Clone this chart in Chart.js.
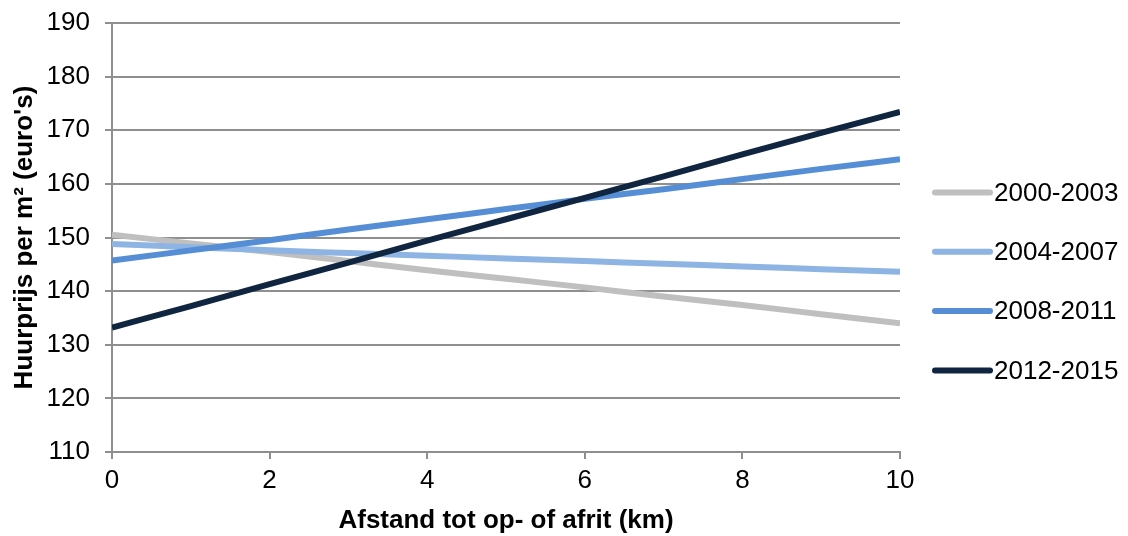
<!DOCTYPE html>
<html>
<head>
<meta charset="utf-8">
<script src="https://cdn.jsdelivr.net/npm/chart.js@4/dist/chart.umd.min.js"></script>
<style>
  html, body { margin: 0; padding: 0; background: #ffffff; }
  canvas { display: block; }
</style>
</head>
<body>
<canvas id="chart" width="1128" height="536"></canvas>
<script>
// Afstand tot op- of afrit (km)
const distanceKm = [0, 1, 2, 3, 4, 5, 6, 7, 8, 9, 10];

// Huurprijs per m² per periode (euro's)
const rent2000_2003 = [150.5, 148.9, 147.3, 145.6, 143.9, 142.3, 140.7, 139.0, 137.4, 135.7, 134.0];
const rent2004_2007 = [148.8, 148.2, 147.6, 147.1, 146.6, 146.1, 145.6, 145.1, 144.6, 144.1, 143.6];
const rent2008_2011 = [145.7, 147.6, 149.5, 151.5, 153.4, 155.3, 157.2, 159.0, 160.9, 162.8, 164.6];
const rent2012_2015 = [133.2, 137.2, 141.3, 145.3, 149.4, 153.4, 157.4, 161.4, 165.5, 169.5, 173.4];

const periodLabels = ['2000-2003', '2004-2007', '2008-2011', '2012-2015'];
const periodSeries = [rent2000_2003, rent2004_2007, rent2008_2011, rent2012_2015];
const periodColors = ['#bfbfbf', '#8db4e2', '#558ed5', '#10253f'];

const FONT = '"Liberation Sans", Arial, sans-serif';
const GRID = '#8f8f8f';

// legend drawn at the right of the plot, one line sample + label per period
const sideLegend = {
  id: 'sideLegend',
  afterDraw(chart) {
    const ctx = chart.ctx;
    const x0 = 935, x1 = 990, tx = 994;
    const firstY = 192.5, step = 59.3;
    ctx.save();
    ctx.font = '26px ' + FONT;
    ctx.textBaseline = 'middle';
    ctx.textAlign = 'left';
    chart.data.datasets.forEach((ds, i) => {
      const y = firstY + i * step;
      ctx.beginPath();
      ctx.strokeStyle = ds.borderColor;
      ctx.lineWidth = 6;
      ctx.lineCap = 'round';
      ctx.moveTo(x0, y);
      ctx.lineTo(x1, y);
      ctx.stroke();
      ctx.fillStyle = '#000000';
      ctx.fillText(ds.label, tx, y + 1);
    });
    ctx.restore();
  }
};

const datasets = periodLabels.map((label, i) => ({
  label: label,
  data: distanceKm.map((x, j) => ({ x: x, y: periodSeries[i][j] })),
  borderColor: periodColors[i],
  backgroundColor: periodColors[i],
  borderWidth: 6,
  pointRadius: 0,
  pointHoverRadius: 0,
  tension: 0.4,
  cubicInterpolationMode: 'monotone',
  fill: false,
  order: periodLabels.length - i
}));

new Chart(document.getElementById('chart'), {
  type: 'line',
  data: { datasets: datasets },
  plugins: [sideLegend],
  options: {
    responsive: false,
    animation: false,
    devicePixelRatio: 1,
    layout: { padding: { top: 23, right: 228, bottom: 0, left: 0 } },
    plugins: {
      legend: { display: false },
      tooltip: { enabled: false }
    },
    scales: {
      x: {
        type: 'linear',
        min: 0,
        max: 10,
        afterFit(scale) {
          scale.height = 84;
          scale.paddingLeft = 0;
          scale.paddingRight = 0;
        },
        ticks: {
          stepSize: 2,
          padding: 6,
          color: '#000000',
          font: { family: FONT, size: 26 }
        },
        grid: {
          drawOnChartArea: false,
          drawTicks: true,
          tickLength: 7,
          color: GRID,
          lineWidth: 2
        },
        border: { display: true, color: GRID, width: 2 },
        title: {
          display: true,
          text: 'Afstand tot op- of afrit (km)',
          color: '#000000',
          font: { family: FONT, size: 26, weight: 'bold' },
          padding: { top: 0, bottom: 0 }
        }
      },
      y: {
        min: 110,
        max: 190,
        afterFit(scale) {
          scale.width = 112;
          scale.paddingTop = 0;
          scale.paddingBottom = 0;
        },
        ticks: {
          stepSize: 10,
          padding: 15,
          color: '#000000',
          font: { family: FONT, size: 26 }
        },
        grid: {
          drawTicks: true,
          tickLength: 7,
          color: GRID,
          lineWidth: 2
        },
        border: { display: true, color: GRID, width: 2 },
        title: {
          display: true,
          text: "Huurprijs per m² (euro's)",
          color: '#000000',
          font: { family: FONT, size: 26, weight: 'bold' },
          padding: { top: 9, bottom: 0 }
        }
      }
    }
  }
});
</script>
</body>
</html>
